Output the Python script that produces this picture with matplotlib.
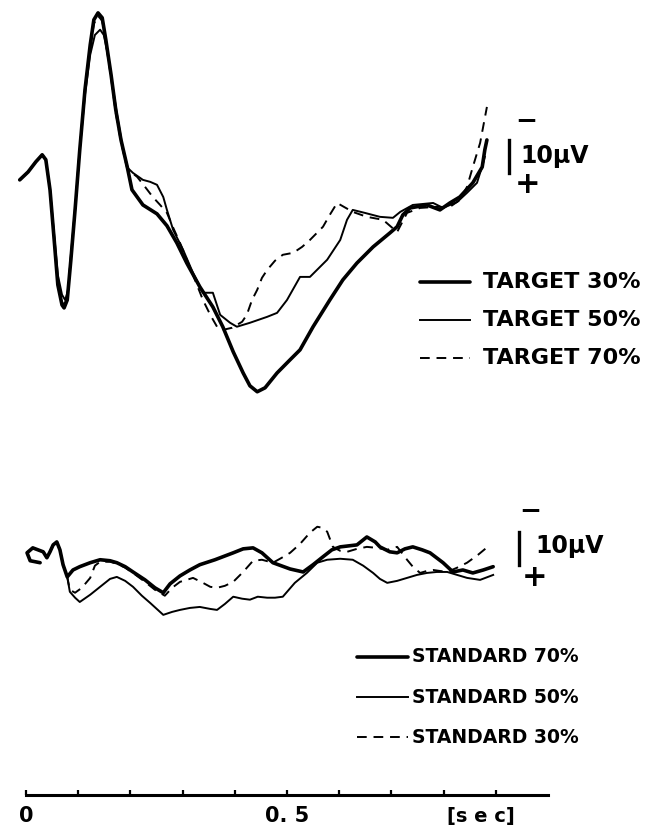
import numpy as np
import matplotlib
matplotlib.use('Agg')
import matplotlib.pyplot as plt

# ---- target ERPs (time in ms, amplitude in uV, negative drawn up) ----
t_early = [-12, 4, 19, 31, 38, 46, 54, 61, 69, 73, 79, 86, 94, 103, 113, 123, 130, 138, 146, 153, 163, 172, 182, 194]

t_tgt30 = t_early + [203, 224, 251, 270, 289, 308, 333, 358, 377, 397, 416, 429, 443, 458, 481, 506, 525, 550,
                     582, 607, 634, 665, 697, 711, 722, 736, 768, 793, 812, 831, 856, 874, 879, 883]
v_tgt30 = [0, -2.4, -5.5, -7.6, -6.1, 3.0, 18.2, 31.8, 37.9, 38.8, 36.4, 24.2, 9.1, -9.1, -27.3, -40.9, -48.5,
           -50.6, -49.1, -42.4, -31.8, -21.2, -12.1, -3.9,
           3.0, 7.6, 10.3, 13.9, 19.1, 25.2, 32.4, 38.5, 44.5, 52.1, 58.5, 62.4, 64.2, 63.0, 58.5, 54.5, 51.5, 44.5,
           36.4, 30.3, 25.2, 20.3, 16.1, 14.2, 10.6, 8.5, 7.6, 9.1, 7.0, 5.2, 0.9, -3.9, -9.1, -12.1]

t_tgt50 = [-12, 4, 19, 31, 38, 46, 54, 61, 69, 75, 81, 86, 94, 103, 113, 123, 132, 142, 149, 157, 167, 176, 186, 195,
           205, 224, 238, 251, 263, 270, 282, 301, 320, 339, 358, 372, 391, 404, 429, 462, 481, 500, 525, 544, 577,
           602, 615, 626, 649, 678, 703, 717, 741, 780, 799, 826, 845, 864, 876, 879]
v_tgt50 = [0, -2.4, -5.5, -7.6, -6.1, 3.0, 16.7, 28.8, 34.8, 36.4, 33.3, 22.7, 9.1, -9.1, -25.8, -37.9, -43.9,
           -45.5, -43.9, -37.9, -27.3, -18.2, -9.1, -3.6,
           -2.1, 0, 0.6, 1.5, 5.2, 9.1, 15.2, 21.2, 28.2, 34.2, 34.2, 40.9, 43.3, 44.5, 43.3, 41.5, 40.3, 36.4, 29.4,
           29.4, 24.2, 18.2, 12.1, 9.1, 10.0, 11.2, 11.5, 9.7, 7.6, 7.0, 8.5, 6.7, 3.9, 0.9, -5.2, -7.0]

t_tgt70 = t_early + [213, 228, 243, 257, 270, 282, 295, 314, 339, 353, 366, 376, 395, 414, 423, 433, 443, 452, 462,
                     477, 492, 512, 529, 544, 569, 582, 596, 626, 653, 684, 711, 730, 755, 784, 812, 831, 845, 856,
                     870, 883]
v_tgt70 = [0, -2.4, -5.5, -7.6, -6.1, 3.0, 17.6, 30.9, 37.0, 37.9, 35.5, 23.6, 8.5, -9.7, -27.3, -40.0, -47.3,
           -49.7, -48.2, -41.5, -30.9, -20.3, -11.5, -3.3,
           -0.9, 2.1, 5.2, 7.6, 10.0, 14.5, 19.1, 26.4, 36.4, 40.9, 44.5, 45.5, 44.8, 43.0, 40.9, 36.4, 33.3, 29.7,
           27.3, 24.5, 22.7, 22.1, 20.3, 18.2, 14.2, 10.6, 7.0, 9.7, 11.2, 12.1, 15.8, 10.0, 8.5, 8.2, 8.2, 6.1,
           2.1, -3.9, -11.2, -22.1]

# ---- standard ERPs ----
t_std_early = [27, 8, 2, 13, 33, 40, 46, 52, 59, 65, 71, 79]
v_std_early = [3.3, 2.7, 0.3, -1.2, 0, 1.8, 0, -2.1, -3.0, -0.6, 3.9, 7.6]

t_std70 = t_std_early + [90, 103, 123, 142, 161, 174, 190, 205, 228, 247, 263, 276, 295, 314, 333, 362, 397, 416,
                         435, 452, 473, 506, 531, 550, 569, 586, 602, 634, 653, 669, 678, 697, 711, 726, 741, 759,
                         774, 799, 818, 837, 856, 876, 895]
v_std70 = v_std_early + [5.5, 4.5, 3.3, 2.4, 2.7, 3.3, 4.5, 6.1, 8.5, 10.9, 12.4, 9.7, 7.3, 5.5, 3.9, 2.4, 0.3,
                         -0.9, -1.2, 0.3, 3.3, 5.2, 6.1, 3.9, 1.5, -0.6, -1.5, -2.1, -4.5, -3.0, -1.5, 0, 0.3,
                         -0.9, -1.5, -0.6, 0.3, 3.3, 6.1, 5.5, 6.4, 5.5, 4.5]

t_std50 = t_std_early + [84, 94, 103, 123, 142, 161, 174, 190, 205, 222, 238, 263, 280, 295, 314, 333, 353, 366,
                         381, 397, 414, 429, 444, 462, 477, 492, 515, 538, 558, 577, 602, 626, 646, 665, 678, 692,
                         711, 730, 749, 768, 787, 807, 826, 845, 870, 895]
v_std50 = v_std_early + [12.1, 13.9, 15.2, 13.0, 10.6, 8.2, 7.6, 8.8, 10.6, 13.3, 15.5, 19.1, 18.2, 17.6, 17.0,
                         16.7, 17.3, 17.6, 15.8, 13.6, 14.2, 14.5, 13.6, 13.9, 13.9, 13.6, 9.4, 6.4, 3.3, 2.4,
                         2.1, 2.4, 4.2, 6.4, 8.2, 9.4, 8.8, 7.9, 7.0, 6.4, 6.1, 6.1, 7.0, 7.9, 8.5, 7.0]

t_std30 = t_std_early + [84, 94, 107, 123, 132, 142, 161, 174, 190, 205, 228, 247, 266, 280, 295, 320, 339, 353,
                         366, 381, 397, 416, 435, 452, 473, 490, 506, 525, 544, 558, 567, 577, 588, 602, 615, 634,
                         653, 672, 692, 711, 720, 730, 741, 755, 768, 780, 793, 807, 826, 845, 866, 889]
v_std30 = v_std_early + [11.5, 12.4, 10.9, 7.9, 4.2, 3.0, 3.0, 3.6, 4.8, 6.4, 9.1, 11.5, 13.3, 10.9, 9.1, 7.9,
                         9.4, 10.6, 10.9, 10.3, 9.1, 6.1, 2.7, 2.4, 3.3, 1.8, 0.3, -2.4, -5.8, -7.6, -7.3, -6.1,
                         -1.5, -0.3, 0, -0.9, -1.5, -1.2, -0.6, -1.5, 0.3, 2.4, 4.5, 6.4, 5.8, 5.5, 5.8, 6.1,
                         4.8, 3.3, 0.9, -2.1]

time_ticks = [0, 100, 200, 300, 400, 500, 600, 700, 800, 900]
target_labels = ['TARGET 30%', 'TARGET 50%', 'TARGET 70%']
standard_labels = ['STANDARD 70%', 'STANDARD 50%', 'STANDARD 30%']

STD_OFFSET = 112.7  # vertical offset of the standard panel, uV

thick = dict(color='black', lw=2.6, solid_capstyle='round', solid_joinstyle='round')
thin = dict(color='black', lw=1.4, solid_joinstyle='round')
dash = dict(color='black', lw=1.4, ls=(0, (5, 3.5)))
styles = [thick, thin, dash]

fig = plt.figure(figsize=(6.47, 8.35), dpi=100)
ax = fig.add_axes([0, 0, 1, 1])
ax.set_xlim(-49.8, 1189.7)
ax.set_ylim(198.5, -54.5)
ax.axis('off')

ax.plot(t_tgt30, v_tgt30, **thick)
ax.plot(t_tgt50, v_tgt50, **thin)
ax.plot(t_tgt70, v_tgt70, **dash)

ax.plot(t_std70, np.array(v_std70) + STD_OFFSET, **thick)
ax.plot(t_std50, np.array(v_std50) + STD_OFFSET, **thin)
ax.plot(t_std30, np.array(v_std30) + STD_OFFSET, **dash)

txt = dict(fontweight='bold', family='DejaVu Sans', color='black')

# scale bars (10 uV)
for x0, base in [(925, -12.1), (944, 106.7)]:
    ax.plot([x0, x0], [base, base + 10], color='black', lw=2.4)
ax.text(948, -7.3, '10μV', fontsize=17, va='center', ha='left', **txt)
ax.text(958, -17.5, '−', fontsize=19, va='center', ha='center', **txt)
ax.text(960, 1.5, '+', fontsize=22, va='center', ha='center', **txt)
ax.text(976, 110.8, '10μV', fontsize=17, va='center', ha='left', **txt)
ax.text(966, 100.6, '−', fontsize=19, va='center', ha='center', **txt)
ax.text(975, 120.6, '+', fontsize=22, va='center', ha='center', **txt)

# legends
for i, (lab, st) in enumerate(zip(target_labels, styles)):
    y = 30.9 + 11.5 * i
    ax.plot([755, 851], [y, y], **st)
    ax.text(875, y, lab, fontsize=16, va='center', ha='left', **txt)
for i, (lab, st) in enumerate(zip(standard_labels, styles)):
    y = 144.5 + 12.2 * i
    ax.plot([634, 732], [y, y], **st)
    ax.text(740, y, lab, fontsize=13.5, va='center', ha='left', **txt)

# time axis
ax_y = 186.4
ax.plot([0, 1000], [ax_y, ax_y], color='black', lw=2.2)
ax.vlines(time_ticks, ax_y - 1.6, ax_y, color='black', lw=1.6)
ax.text(0, 192.6, '0', fontsize=15, ha='center', va='center', **txt)
ax.text(500, 192.6, '0. 5', fontsize=15, ha='center', va='center', **txt)
ax.text(872, 192.8, '[s e c]', fontsize=14, ha='center', va='center', **txt)

fig.savefig('out.png', dpi=100)
